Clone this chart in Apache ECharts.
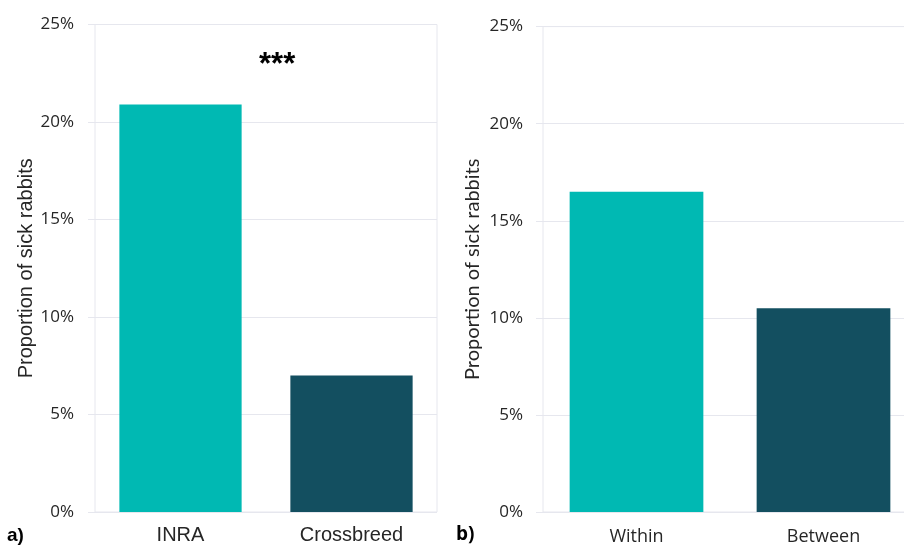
<!DOCTYPE html>
<html>
<head>
<meta charset="utf-8">
<script src="https://cdn.jsdelivr.net/npm/echarts@6/dist/echarts.min.js"></script>
<style>
  html, body { margin: 0; padding: 0; background: #ffffff; }
  #chart { width: 904px; height: 545px; }
</style>
</head>
<body>
<div id="chart"></div>
<script>
// Panel a): breed comparison
const breedCategories = ['INRA', 'Crossbreed'];
const breedValues = [20.9, 7.0];
// Panel b): mating comparison
const matingCategories = ['Within', 'Between'];
const matingValues = [16.5, 10.5];
// Shared y-axis ticks (percent)
const yMin = 0, yMax = 25, yStep = 5;
const yTitle = 'Proportion of sick rabbits';
const barColors = ['#00b9b3', '#134f60'];

const gridLine = '#e6e7ee';

function yAxisFor(gridIndex, labelFont, labelMargin, titleFont, titleSize, titleGap) {
  return {
    type: 'value', gridIndex: gridIndex,
    min: yMin, max: yMax, interval: yStep,
    axisLine: { show: false },
    axisTick: { show: true, length: 7, lineStyle: { color: gridLine } },
    splitLine: { lineStyle: { color: gridLine, width: 1 } },
    axisLabel: {
      formatter: '{value}%', color: '#262626', fontSize: 17,
      fontFamily: labelFont, margin: labelMargin
    },
    name: yTitle, nameLocation: 'middle', nameGap: titleGap,
    nameTextStyle: { color: '#262626', fontSize: titleSize, fontFamily: titleFont }
  };
}

function xAxisFor(gridIndex, cats, font, size, margin) {
  return {
    type: 'category', gridIndex: gridIndex, data: cats,
    axisLine: { show: false }, axisTick: { show: false },
    axisLabel: { color: '#262626', fontSize: size, fontFamily: font, margin: margin }
  };
}

function barSeries(idx, values, width) {
  return {
    type: 'bar', xAxisIndex: idx, yAxisIndex: idx,
    barWidth: width,
    data: values.map((v, i) => ({ value: v, itemStyle: { color: barColors[i] } })),
    silent: true
  };
}

const chart = echarts.init(document.getElementById('chart'), null, { renderer: 'canvas' });
chart.setOption({
  animation: false,
  backgroundColor: '#ffffff',
  grid: [
    { left: 95, width: 342, top: 24.5, bottom: 33, show: true,
      borderColor: gridLine, borderWidth: 1, containLabel: false, outerBoundsMode: 'none' },
    // the right panel runs a little past the right edge of the canvas
    { left: 543, width: 374, top: 26.6, bottom: 33, show: true,
      borderColor: gridLine, borderWidth: 1, containLabel: false, outerBoundsMode: 'none' }
  ],
  xAxis: [
    xAxisFor(0, breedCategories, '"Liberation Sans", Arial, sans-serif', 20, 13),
    xAxisFor(1, matingCategories, '"Open Sans", sans-serif', 18, 16)
  ],
  yAxis: [
    yAxisFor(0, '"Open Sans", sans-serif', 21, '"Liberation Sans", Arial, sans-serif', 20, 59),
    yAxisFor(1, '"Open Sans", sans-serif', 20, 'Lato, sans-serif', 20, 60)
  ],
  series: [
    barSeries(0, breedValues, '71.5%'),
    barSeries(1, matingValues, '71.5%')
  ],
  graphic: [
    { type: 'text', left: 259, top: 50,
      style: { text: '***', fontSize: 31, fontWeight: 'bold',
               fontFamily: '"Liberation Sans", Arial, sans-serif', fill: '#000000' } },
    { type: 'text', left: 7, top: 526,
      style: { text: 'a)', fontSize: 19, fontWeight: 'bold',
               fontFamily: '"Liberation Sans", Arial, sans-serif', fill: '#000000' } },
    { type: 'text', left: 456, top: 525,
      style: { text: 'b)', fontSize: 19, fontWeight: 'bold',
               fontFamily: '"Open Sans", sans-serif', fill: '#000000' } }
  ]
});
</script>
</body>
</html>
